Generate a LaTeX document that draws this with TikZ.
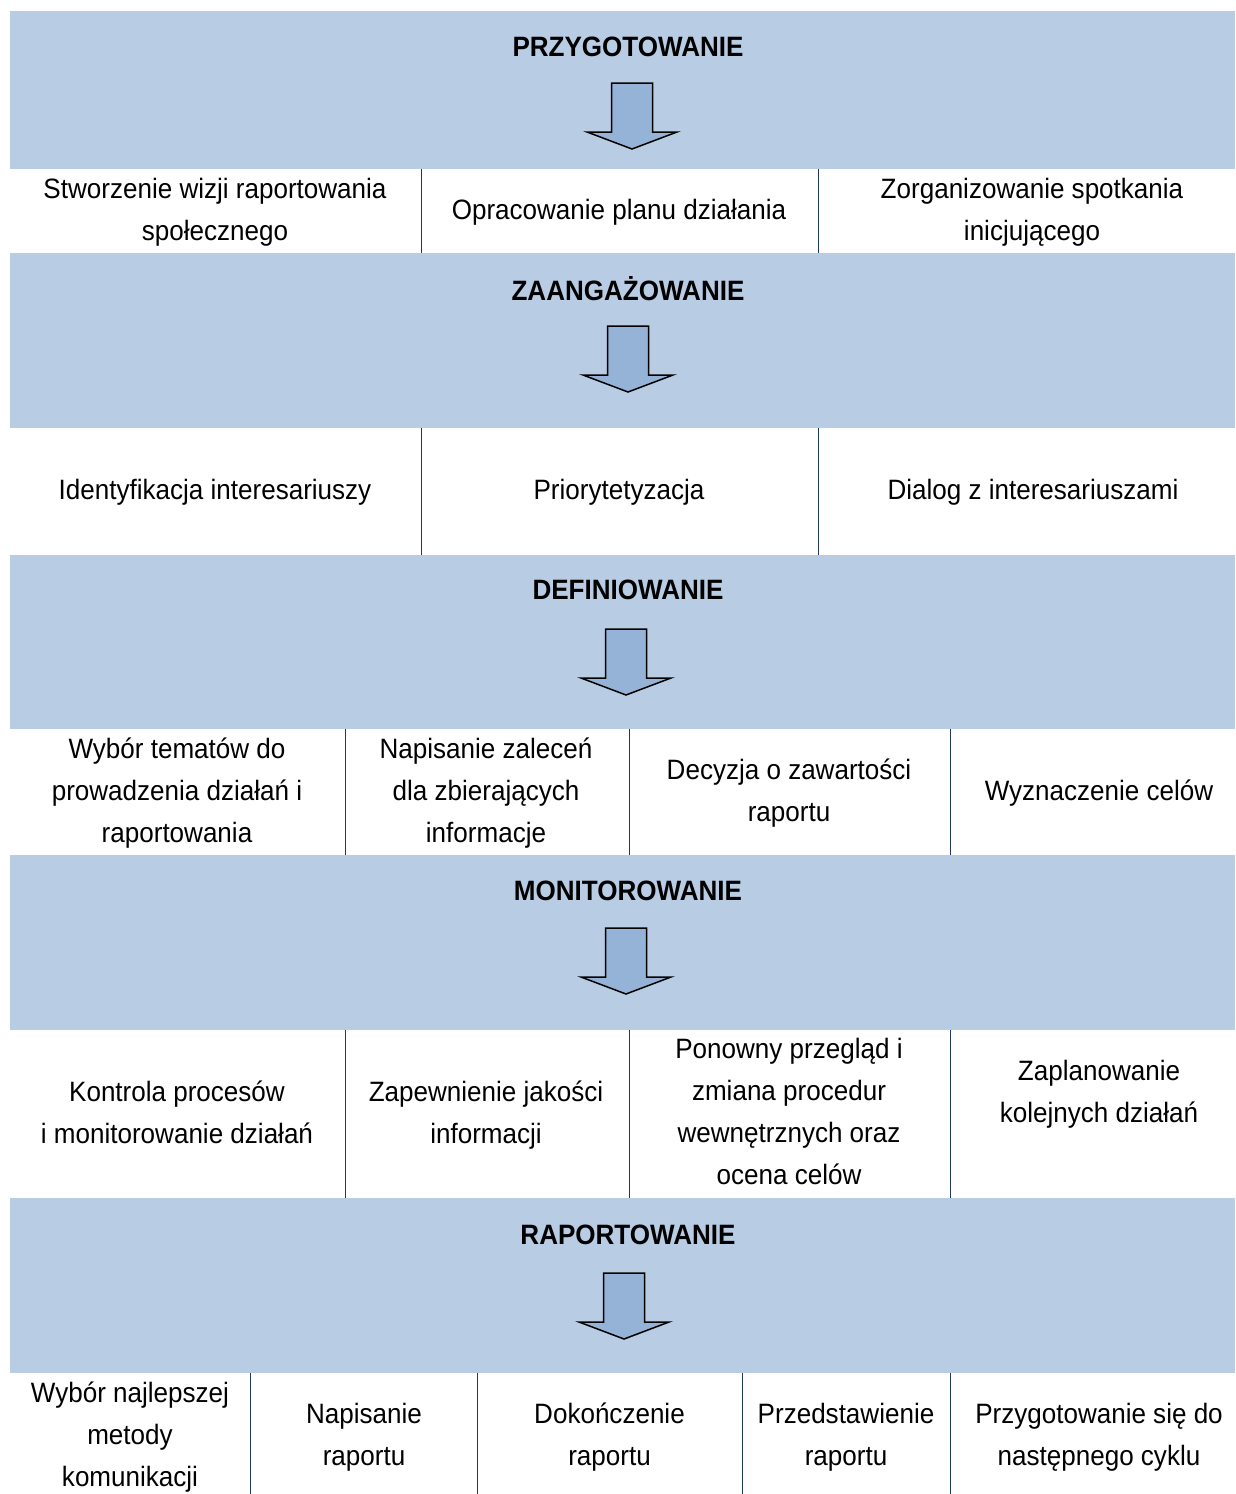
\documentclass[tikz,border=0pt]{standalone}
\usepackage{fontspec}
\setmainfont{Liberation Sans}[FakeStretch=0.93]
\definecolor{band}{HTML}{B8CCE4}
\definecolor{arrowfill}{HTML}{95B3D7}
\definecolor{divider}{HTML}{1F3864}
\begin{document}
\begin{tikzpicture}[x=1pt,y=-1pt,
  bandbox/.style={fill=band,draw=none},
  cell/.style={inner sep=0pt,align=center,font=\fontsize{28}{42}\selectfont},
  title/.style={inner sep=0pt,font=\fontsize{28}{30}\selectfont\bfseries},
  divline/.style={draw=divider,line width=1pt},
  blockarrow/.style={fill=arrowfill,draw=black,line width=1.5pt,line join=miter}]
\useasboundingbox (0,0) rectangle (1235,1494);
\fill[white] (0,0) rectangle (1235,1494);
% bands
\fill[bandbox] (10,11) rectangle (1235,169);
\fill[bandbox] (10,253) rectangle (1235,428);
\fill[bandbox] (10,555) rectangle (1235,729);
\fill[bandbox] (10,855) rectangle (1235,1030);
\fill[bandbox] (10,1198) rectangle (1235,1373);
% titles
\node[title] (t1) at (628,47) {PRZYGOTOWANIE};
\node[title] (t2) at (628,289) {ZAANGAŻOWANIE};
\node[title] (t3) at (628,590) {DEFINIOWANIE};
\node[title] (t4) at (628,891) {MONITOROWANIE};
\node[title] (t5) at (628,1235) {RAPORTOWANIE};
% arrows
\newcommand{\blockarr}[4]{% cx, top, shoulder, tip
  \draw[blockarrow] (#1-20.5,#2) -- (#1+20.5,#2) -- (#1+20.5,#3) -- (#1+45,#3) -- (#1,#4) -- (#1-45,#3) -- (#1-20.5,#3) -- cycle;}
\blockarr{632}{83}{132}{149}
\blockarr{628}{326}{375}{392}
\blockarr{626}{629}{678}{695}
\blockarr{626}{928}{977}{994}
\blockarr{624}{1273}{1322}{1339}
% dividers
\draw[divline] (421,169) -- (421,253);
\draw[divline] (818,169) -- (818,253);
\draw[divline] (421,428) -- (421,555);
\draw[divline] (818,428) -- (818,555);
\foreach \x in {345,629,950} {
  \draw[divline] (\x,729) -- (\x,855);
  \draw[divline] (\x,1030) -- (\x,1198);
}
\foreach \x in {250,477,742,950} {
  \draw[divline] (\x,1373) -- (\x,1494);
}
% row 1
\node[cell] (a1) at (215,212) {Stworzenie wizji raportowania\\społecznego};
\node[cell] (a2) at (619,212) {Opracowanie planu działania};
\node[cell] (a3) at (1032,212) {Zorganizowanie spotkania\\inicjującego};
% row 2
\node[cell] (b1) at (215,492) {Identyfikacja interesariuszy};
\node[cell] (b2) at (619,492) {Priorytetyzacja};
\node[cell] (b3) at (1033,492) {Dialog z interesariuszami};
% row 3
\node[cell] (c1) at (177,793) {Wybór tematów do\\prowadzenia działań i\\raportowania};
\node[cell] (c2) at (486,793) {Napisanie zaleceń\\dla zbierających\\informacje};
\node[cell] (c3) at (789,793) {Decyzja o zawartości\\raportu};
\node[cell] (c4) at (1099,793) {Wyznaczenie celów};
% row 4
\node[cell] (d1) at (177,1112) {Kontrola procesów\\i monitorowanie działań};
\node[cell] (d2) at (486,1115) {Zapewnienie jakości\\informacji};
\node[cell] (d3) at (789,1111) {Ponowny przegląd i\\zmiana procedur\\wewnętrznych oraz\\ocena celów};
\node[cell] (d4) at (1099,1094) {Zaplanowanie\\kolejnych działań};
% row 5
\node[cell] (e1) at (130,1437) {Wybór najlepszej\\metody\\komunikacji};
\node[cell] (e2) at (364,1437) {Napisanie\\raportu};
\node[cell] (e3) at (609.5,1437) {Dokończenie\\raportu};
\node[cell] (e4) at (846,1437) {Przedstawienie\\raportu};
\node[cell] (e5) at (1099,1437) {Przygotowanie się do\\następnego cyklu};
\end{tikzpicture}
\end{document}
